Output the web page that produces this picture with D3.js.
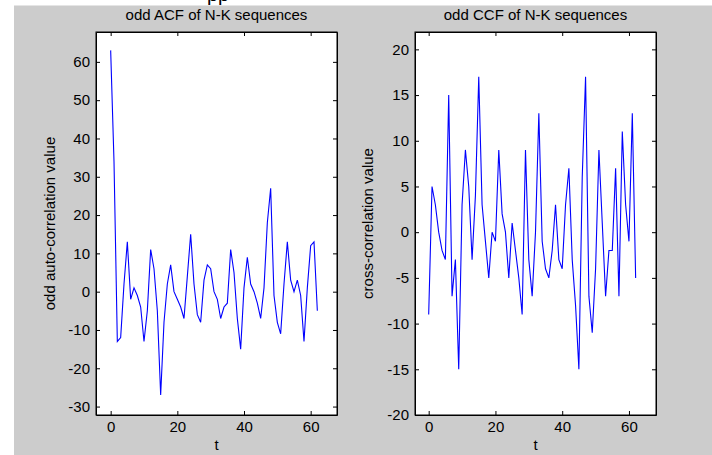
<!DOCTYPE html>
<html>
<head>
<meta charset="utf-8">
<script src="https://cdn.jsdelivr.net/npm/d3@7"></script>
<style>
body { margin: 0; background: #fff; }
#chart { width: 712px; height: 455px; }
text { font-family: "Liberation Sans", Arial, sans-serif; fill: #000; }
</style>
</head>
<body>
<div id="chart"></div>
<script>
// lag index t
const lags = d3.range(0, 63);

// odd auto-correlation values
const acfValues = [63, 34, -13, -12, 2, 13, -2, 1, -1, -4,
    -13, -5, 11, 6, -5, -27, -8, 2, 7, 0,
    -2, -4, -7, 4, 15, 2, -6, -8, 3, 7,
    6, 0, -2, -7, -4, -3, 11, 5, -7, -15,
    1, 9, 2, 0, -3, -7, 1, 18, 27, -1,
    -8, -11, 2, 13, 3, 0, 3, -1, -13, 1,
    12, 13, -5];

// odd cross-correlation values
const ccfValues = [-9, 5, 3, 0, -2, -3, 15, -7, -3, -15,
    3, 9, 5, -3, 4, 17, 3, -1, -5, 0,
    -1, 9, 2, 0, -5, 1, -2, -5, -9, 9,
    -3, -7, 0, 13, -1, -4, -5, -2, 3, -3,
    -4, 3, 7, -3, -8, -15, 6, 17, -7, -11,
    -4, 9, 1, -7, -2, -2, 7, -7, 11, 3,
    -1, 13, -5];

const xTicks = [0, 20, 40, 60];
const acfTicks = [-30, -20, -10, 0, 10, 20, 30, 40, 50, 60];
const ccfTicks = [-20, -15, -10, -5, 0, 5, 10, 15, 20];

const width = 712;
const height = 455;

const svg = d3.select("#chart")
    .append("svg")
    .attr("width", width)
    .attr("height", height);

// figure background (grey), with a thin white strip on the left and top
svg.append("rect")
    .attr("x", 14)
    .attr("y", 5.5)
    .attr("width", width - 14)
    .attr("height", height - 5.5)
    .attr("fill", "#cccccc");

// clipped descenders of the text above the figure
svg.append("text")
    .attr("x", 207)
    .attr("y", 0.5)
    .attr("font-family", "Liberation Serif")
    .attr("font-size", "20px")
    .text("pp");

// MATLAB style labels: plain hyphen for negatives
const plain = function(d) { return String(d); };

function panel(opts) {
    const xScale = d3.scaleLinear()
        .domain(opts.xlim)
        .range([opts.left, opts.right]);

    const yScale = d3.scaleLinear()
        .domain(opts.ylim)
        .range([opts.bottom, opts.top]);

    const g = svg.append("g");

    g.append("rect")
        .attr("x", opts.left)
        .attr("y", opts.top)
        .attr("width", opts.right - opts.left)
        .attr("height", opts.bottom - opts.top)
        .attr("fill", "#fff");

    const line = d3.line()
        .x(function(d, i) { return xScale(lags[i]); })
        .y(function(d) { return yScale(d); });

    g.append("path")
        .datum(opts.values)
        .attr("d", line)
        .attr("fill", "none")
        .attr("stroke", "#0000ff")
        .attr("stroke-width", 1.1);

    const tickLen = -4;

    g.append("g")
        .attr("transform", `translate(0, ${opts.bottom})`)
        .call(d3.axisBottom(xScale).tickValues(xTicks).tickFormat(plain)
            .tickSizeInner(tickLen).tickSizeOuter(0).tickPadding(6));

    g.append("g")
        .attr("transform", `translate(0, ${opts.top})`)
        .call(d3.axisTop(xScale).tickValues(xTicks)
            .tickSizeInner(tickLen).tickSizeOuter(0).tickFormat(""));

    g.append("g")
        .attr("transform", `translate(${opts.left}, 0)`)
        .call(d3.axisLeft(yScale).tickValues(opts.yTicks).tickFormat(plain)
            .tickSizeInner(tickLen).tickSizeOuter(0).tickPadding(6));

    g.append("g")
        .attr("transform", `translate(${opts.right}, 0)`)
        .call(d3.axisRight(yScale).tickValues(opts.yTicks)
            .tickSizeInner(tickLen).tickSizeOuter(0).tickFormat(""));

    g.selectAll(".domain").attr("stroke", "#000");
    g.selectAll(".tick line").attr("stroke", "#000");
    g.selectAll(".tick text")
        .attr("font-size", "15px")
        .attr("font-family", "Liberation Sans")
        .attr("fill", "#000");

    g.append("rect")
        .attr("x", opts.left)
        .attr("y", opts.top)
        .attr("width", opts.right - opts.left)
        .attr("height", opts.bottom - opts.top)
        .attr("fill", "none")
        .attr("stroke", "#000");

    const cx = (opts.left + opts.right) / 2;
    const cy = (opts.top + opts.bottom) / 2;

    g.append("text")
        .attr("x", cx)
        .attr("y", 20)
        .attr("text-anchor", "middle")
        .attr("font-size", "15px")
        .text(opts.title);

    g.append("text")
        .attr("x", cx)
        .attr("y", 450)
        .attr("text-anchor", "middle")
        .attr("font-size", "15px")
        .text("t");

    g.append("text")
        .attr("transform", `translate(${opts.ylabelX}, ${cy}) rotate(-90)`)
        .attr("text-anchor", "middle")
        .attr("font-size", "15px")
        .text(opts.ylabel);
}

panel({
    left: 96, right: 337, top: 32, bottom: 415,
    xlim: [-4.4, 67.9], ylim: [-32.2, 67.8],
    yTicks: acfTicks, values: acfValues,
    title: "odd ACF of N-K sequences",
    ylabel: "odd auto-correlation value", ylabelX: 55
});

panel({
    left: 415, right: 656, top: 32, bottom: 415,
    xlim: [-4.1, 68.1], ylim: [-20, 21.9],
    yTicks: ccfTicks, values: ccfValues,
    title: "odd CCF of N-K sequences",
    ylabel: "cross-correlation value", ylabelX: 373
});
</script>
</body>
</html>
